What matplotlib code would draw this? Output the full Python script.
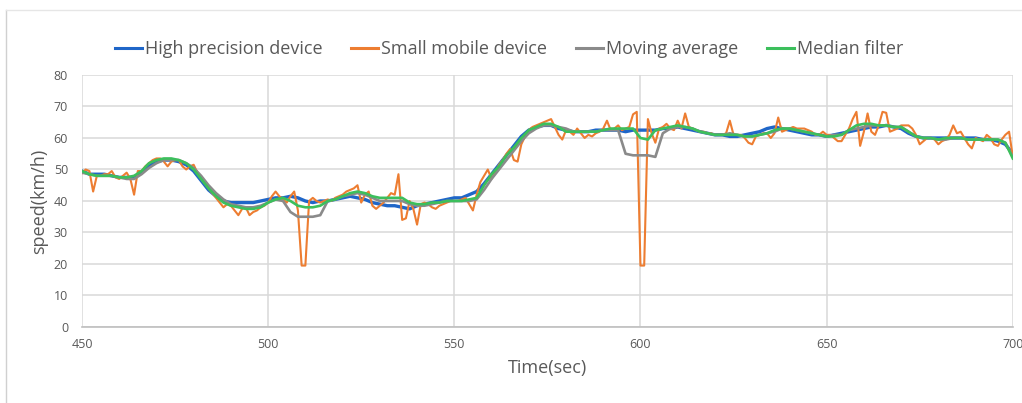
import numpy as np
import matplotlib.pyplot as plt
from matplotlib.lines import Line2D

# time axes: reference devices/filters sampled every 2 s, phone raw every 1 s
t2 = np.arange(450, 701, 2)
t1 = np.arange(450, 701, 1)

high_precision = [
    49.5, 48.5, 48.5, 48.5, 48, 47.5, 47.5, 47.5, 49, 51,          # 450-468
    52.5, 53, 53, 52.5, 51.5, 49.5, 46.5, 43.5, 41.5, 40,          # 470-488
    39.5, 39.5, 39.5, 39.5, 40, 40.5, 41, 41, 41.5, 41,            # 490-508
    40, 39.5, 40, 40, 40.5, 41, 41.5, 41, 40.5, 39.5,              # 510-528
    39, 38.5, 38.5, 38, 37.5, 38.5, 39, 39.5, 40, 40.5,            # 530-548
    41, 41, 42, 43, 45.5, 48.5, 51.5, 54.5, 57.5, 60.5,            # 550-568
    62.5, 63.5, 64, 64, 63, 62.5, 62, 62, 62, 62.5,                # 570-588
    62.5, 62.5, 62.5, 62, 62.5, 62.5, 62.5, 62.5, 63, 63,          # 590-608
    63.5, 63, 62.5, 62, 61.5, 61, 61, 60.5, 60.5, 61,              # 610-628
    61.5, 62, 63, 63.5, 63, 62.5, 62, 61.5, 61, 61,                # 630-648
    60.5, 61, 61.5, 62, 62.5, 63, 63.5, 63.5, 64, 63.5,            # 650-668
    63, 61.5, 60.5, 60, 60, 60, 60, 60, 60, 60,                    # 670-688
    60, 59.5, 59.5, 59, 58, 55,                                    # 690-700
]

small_mobile = [
    48.8, 50, 49.5, 43, 48, 48, 48.5, 48.5, 49.5, 47.5,            # 450-459
    47, 48, 49, 47, 42, 49.5, 49.5, 51, 52, 53,                    # 460-469
    53.5, 53.5, 52.5, 51, 52.5, 53, 53, 51, 50, 51,                # 470-479
    51.5, 49, 47, 45.5, 44, 42.5, 41, 39.5, 38, 39,                # 480-489
    38.5, 37, 35.5, 37.5, 38, 35.5, 36.5, 37, 38, 38.5,            # 490-499
    39.5, 41.5, 43, 41.5, 40.5, 39.5, 41.5, 43, 37, 19.5,          # 500-509
    19.5, 40, 41, 40, 39.5, 40, 40.5, 40, 41, 41.5,                # 510-519
    42, 43, 43.5, 44, 45, 39.5, 42, 43, 38.5, 37.5,                # 520-529
    38.5, 39.5, 41, 42.5, 42, 48.5, 34, 34.5, 40, 37.5,            # 530-539
    32.5, 39, 39.5, 39, 38, 37.5, 38.5, 39, 39.5, 40,              # 540-549
    40, 40, 40.5, 41, 39, 37, 42, 46, 48, 50,                      # 550-559
    47, 49, 51.5, 53, 55, 56.5, 53, 52.5, 58, 60.5,                # 560-569
    62.5, 63.5, 64, 64.5, 65, 65.5, 66, 63.5, 61, 59.5,            # 570-579
    62.5, 62, 61, 63, 61.5, 60, 61, 60.5, 61.5, 62,                # 580-589
    63, 65.5, 62.5, 63, 64, 62.5, 63, 63.5, 67.5, 68.3,            # 590-599
    19.5, 19.5, 66, 61.5, 58.5, 63, 63.5, 64.5, 63, 62.5,          # 600-609
    65.5, 63, 67.8, 63.5, 63, 62.5, 62, 62, 61.5, 61.5,            # 610-619
    61, 61, 61, 61.5, 65.5, 61, 61, 61, 60, 58.5,                  # 620-629
    58, 60.5, 61, 61.5, 61.5, 60, 61.5, 66.5, 62, 62.5,            # 630-639
    63, 63.5, 63, 63, 63, 62.5, 62, 61, 61, 62,                    # 640-649
    61, 61, 60, 59, 59, 61, 63, 66, 68.3, 57.5,                    # 650-659
    62, 67.8, 62, 61, 64, 68.3, 68, 62, 62.5, 63,                  # 660-669
    64, 64, 64, 63, 61, 58, 59, 60, 60, 59.5,                      # 670-679
    58, 59, 59.5, 61, 64, 61.5, 62, 60, 58, 56.7,                  # 680-689
    60, 59.5, 59, 61, 60, 58, 57.5, 59.5, 61, 62,                  # 690-699
    54,                                                            # 700
]

moving_average = [
    49, 48.5, 48, 48, 48, 47.5, 47, 47, 48.5, 50.5,                # 450-468
    52, 53, 53, 53, 52, 50.5, 48, 45, 42.5, 40.5,                  # 470-488
    39, 38.5, 38, 38, 38.5, 39.5, 40.5, 40, 36.5, 35,              # 490-508
    35, 35, 35.5, 40, 40.5, 41.5, 42, 42.5, 42, 41,                # 510-528
    40, 40, 40, 40, 39, 38.5, 38.5, 39, 39.5, 40,                  # 530-548
    40, 40, 40, 40.5, 43.5, 47, 50, 53, 56, 59,                    # 550-568
    61.5, 63, 64, 64, 63.5, 63, 62, 62, 62, 62,                    # 570-588
    62.5, 62.5, 62.5, 55, 54.5, 54.5, 54.5, 54, 61.5, 63,          # 590-608
    63.5, 63.5, 63, 62, 61.5, 61, 61, 61.5, 61, 60.5,              # 610-628
    60.5, 61, 61.5, 62, 63, 63, 62.5, 62, 61.5, 61,                # 630-648
    60.5, 61, 61, 62.5, 63, 63.5, 64, 64, 64, 63.5,                # 650-668
    63.5, 62, 60.5, 60, 60, 59.5, 59.5, 60, 60, 59.5,              # 670-688
    59.5, 59.5, 59.5, 59.5, 58.5, 54,                              # 690-700
]

median_filter = [
    49.5, 48.5, 48, 48, 48, 47.5, 47.5, 48, 49.5, 52,              # 450-468
    53, 53.5, 53.5, 53, 52, 50, 47, 44, 41.5, 39.5,                # 470-488
    38.5, 38, 37.5, 37.5, 38, 39.5, 40.5, 41, 40, 38.5,            # 490-508
    38, 38, 38.5, 40, 40.5, 41.5, 42.5, 43, 42.5, 41.5,            # 510-528
    41, 41, 41, 41, 39.5, 39, 39, 39.5, 39.5, 40,                  # 530-548
    40, 40, 40.5, 41, 45, 48.5, 51, 54.5, 57, 60,                  # 550-568
    62.5, 63.5, 64.5, 64.5, 63.5, 62, 62, 62, 62, 62,              # 570-588
    62.5, 63, 63, 63, 63, 60, 59.5, 62.5, 63, 63.5,                # 590-608
    64, 63.5, 63, 62, 61.5, 61, 61, 61, 61, 60.5,                  # 610-628
    60.5, 61, 61.5, 62.5, 63, 63, 62.5, 62, 61.5, 61,              # 630-648
    60.5, 60.5, 61, 62.5, 64, 64.5, 64.5, 64, 64, 63.5,            # 650-668
    63.5, 62, 60.5, 60, 60, 59.5, 60, 60, 60, 59.5,                # 670-688
    59.5, 59.5, 59.5, 59.5, 58.5, 53.5,                            # 690-700
]

series = [
    ("High precision device", t2, high_precision, "#1f66c8", 2.4),
    ("Small mobile device", t1, small_mobile, "#ed7d31", 1.5),
    ("Moving average", t2, moving_average, "#8a8a8a", 1.9),
    ("Median filter", t2, median_filter, "#3cbf5c", 1.9),
]

text_color = "#595959"
plt.rcParams["font.family"] = ["Open Sans", "DejaVu Sans"]

fig = plt.figure(figsize=(10.22, 4.03), dpi=100)
ax = fig.add_axes([0.0802, 0.1886, 0.9108, 0.6253])

for name, t, v, color, lw in series:
    ax.plot(t, v, color=color, lw=lw, label=name, solid_joinstyle="round")

ax.set_xlim(450, 700)
ax.set_ylim(0, 80)
ax.set_xticks(np.arange(450, 701, 50))
ax.set_yticks(np.arange(0, 81, 10))
ax.grid(True, color="#d9d9d9", lw=1.1)
ax.set_axisbelow(True)
for side in ["left", "right", "top"]:
    ax.spines[side].set_visible(False)
ax.spines["bottom"].set_color("#bfbfbf")
ax.spines["bottom"].set_linewidth(1.2)
ax.tick_params(length=0, labelsize=9, colors=text_color, pad=8)
ax.tick_params(axis="y", pad=10)

ax.set_xlabel("Time(sec)", fontsize=13, color=text_color, labelpad=6)
ax.set_ylabel("speed(km/h)", fontsize=13, color=text_color, labelpad=4)

handles = [Line2D([], [], color=c, lw=2.2) for _, _, _, c, _ in series]
labels = [s[0] for s in series]
leg = fig.legend(handles, labels, loc="center", bbox_to_anchor=(0.498, 0.878),
                 ncol=4, frameon=False, fontsize=13, handlelength=1.5,
                 handletextpad=0.15, columnspacing=1.6)
for txt in leg.get_texts():
    txt.set_color(text_color)

# thin outer frame on the left and top
fig.add_artist(Line2D([0.006, 0.006], [0.0, 0.975], transform=fig.transFigure,
                      color="#d0d0d0", lw=1))
fig.add_artist(Line2D([0.006, 1.0], [0.975, 0.975], transform=fig.transFigure,
                      color="#e6e6e6", lw=1))

fig.savefig("out.png", dpi=100)
